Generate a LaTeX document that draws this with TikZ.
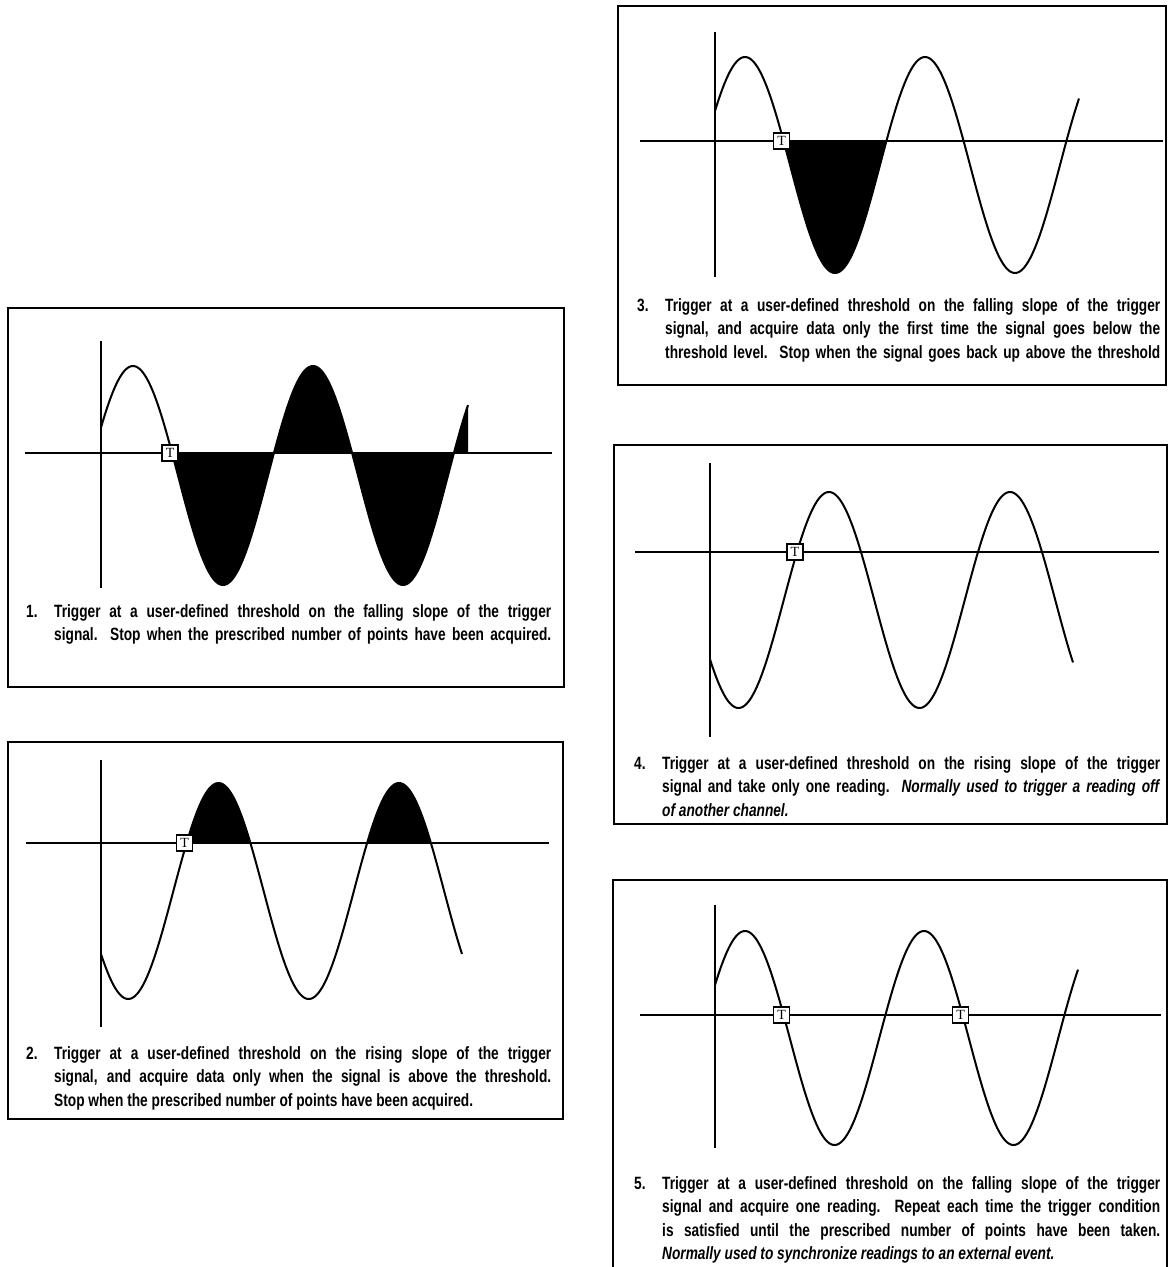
\documentclass[tikz,border=0pt]{standalone}
\usepackage{fontspec}
\setmainfont{Liberation Sans}[FakeStretch=0.77]
\newfontfamily\tfont{Liberation Serif}
\newcommand{\jl}[1]{\makebox[\dimexpr\linewidth-28pt\relax][s]{#1}}
\newcommand{\num}[1]{\makebox[28pt][l]{#1}}
\newcommand{\ind}{\hspace*{28pt}}
\begin{document}
\begin{tikzpicture}[x=1pt,y=-1pt,
  frame/.style={line width=2pt},
  axisline/.style={line width=2pt},
  thr/.style={line width=2.4pt},
  wave/.style={line width=2pt,line join=round},
  tmark/.style={draw,line width=1.4pt,fill=white,minimum width=16pt,minimum height=16pt,inner sep=0pt,font=\tfont\fontsize{14}{14}\selectfont},
  desc/.style={anchor=base west,inner sep=0pt,text width=#1,align=justify,font=\bfseries\fontsize{17.8}{23.3}\selectfont},
  desc/.default=525pt
]
\useasboundingbox (0,0) rectangle (1168,1267);

% ---------------- Panel 1 ----------------
\draw[frame] (8,308) rectangle (564,687);
\draw[axisline] (101,341) -- (101,588);
\draw[thr] (25,453) -- (552,453);
\pgfmathsetmacro{\offA}{180*acos((475.5-453)/109.5)/360}
\pgfmathsetmacro{\xaA}{133+\offA}
\fill plot[domain=\xaA:468,samples=150] (\x,{475.5-109.5*cos(2*(\x-133))}) -- (468,453) -- cycle;
\draw[wave] plot[domain=101:468,samples=220] (\x,{475.5-109.5*cos(2*(\x-133))});
\node[tmark] (t1) at ({\xaA-2},453) {T};
\node[desc=525pt] (d1) at (26,617.5) {\spaceskip=0pt\num{1.}\jl{Trigger at a user-defined threshold on the falling slope of the trigger}\\
\ind\jl{signal.\ \ Stop when the prescribed number of points have been acquired.}};

% ---------------- Panel 2 ----------------
\draw[frame] (8,742) rectangle (563,1119);
\draw[axisline] (101,760) -- (101,1027);
\draw[thr] (26,843) -- (549,843);
\pgfmathsetmacro{\offB}{180.5*acos((891-843)/108)/360}
\pgfmathsetmacro{\xaB}{218.5-\offB}
\pgfmathsetmacro{\xbB}{218.5+\offB}
\pgfmathsetmacro{\xcB}{399-\offB}
\pgfmathsetmacro{\xdB}{399+\offB}
\fill plot[domain=\xaB:\xbB,samples=80] (\x,{891-108*cos(1.99446*(\x-218.5))}) -- cycle;
\fill plot[domain=\xcB:\xdB,samples=80] (\x,{891-108*cos(1.99446*(\x-218.5))}) -- cycle;
\draw[wave] plot[domain=101:462,samples=220] (\x,{891-108*cos(1.99446*(\x-218.5))});
\node[tmark] (t2) at ({\xaB-2},843) {T};
\node[desc=525pt] (d2) at (26,1059.5) {\spaceskip=0pt\num{2.}\jl{Trigger at a user-defined threshold on the rising slope of the trigger}\\
\ind\jl{signal, and acquire data only when the signal is above the threshold.}\\
\ind Stop when the prescribed number of points have been acquired.};

% ---------------- Panel 3 ----------------
\draw[frame] (618,6) rectangle (1166,385);
\draw[axisline] (715,32) -- (715,277);
\draw[thr] (640,141) -- (1163,141);
\pgfmathsetmacro{\offC}{180*acos((165-141)/108)/360}
\pgfmathsetmacro{\xaC}{745+\offC}
\pgfmathsetmacro{\xbC}{925-\offC}
\fill plot[domain=\xaC:\xbC,samples=120] (\x,{165-108*cos(2*(\x-745))}) -- cycle;
\draw[wave] plot[domain=715:1079,samples=220] (\x,{165-108*cos(2*(\x-745))});
\node[tmark] (t3) at ({\xaC-2},141) {T};
\node[desc=523pt] (d3) at (637,311.5) {\spaceskip=0pt\num{3.}\jl{Trigger at a user-defined threshold on the falling slope of the trigger}\\
\ind\jl{signal, and acquire data only the first time the signal goes below the}\\
\ind\jl{threshold level.\ \ Stop when the signal goes back up above the threshold}};

% ---------------- Panel 4 ----------------
\draw[frame] (614,445) rectangle (1167,824);
\draw[axisline] (710,463) -- (710,737);
\draw[thr] (635,552) -- (1159,552);
\pgfmathsetmacro{\offD}{181*acos((600-552)/108)/360}
\pgfmathsetmacro{\xaD}{829-\offD}
\draw[wave] plot[domain=710:1073,samples=220] (\x,{600-108*cos(1.98895*(\x-829))});
\node[tmark] (t4) at ({\xaD-2},552) {T};
\node[desc=526pt] (d4) at (634,769.5) {\spaceskip=0pt\num{4.}\jl{Trigger at a user-defined threshold on the rising slope of the trigger}\\
\ind\jl{signal and take only one reading.\ \ \textit{Normally used to trigger a reading off}}\\
\ind\textit{of another channel.}};

% ---------------- Panel 5 ----------------
\draw[frame] (613,1268) -- (613,880) -- (1167,880) -- (1167,1268);
\draw[axisline] (715,905) -- (715,1148);
\draw[thr] (640,1015) -- (1161,1015);
\pgfmathsetmacro{\offE}{179*acos((1038-1015)/107)/360}
\pgfmathsetmacro{\xaE}{745+\offE}
\pgfmathsetmacro{\xbE}{924+\offE}
\draw[wave] plot[domain=715:1078,samples=220] (\x,{1038-107*cos(2.011173*(\x-745))});
\node[tmark] (t5a) at ({\xaE-2},1015) {T};
\node[tmark] (t5b) at ({\xbE-2},1015) {T};
\node[desc=526pt] (d5) at (634,1189.5) {\spaceskip=0pt\num{5.}\jl{Trigger at a user-defined threshold on the falling slope of the trigger}\\
\ind\jl{signal and acquire one reading.\ \ Repeat each time the trigger condition}\\
\ind\jl{is satisfied until the prescribed number of points have been taken.}\\
\ind\textit{Normally used to synchronize readings to an external event.}};
\end{tikzpicture}
\end{document}
